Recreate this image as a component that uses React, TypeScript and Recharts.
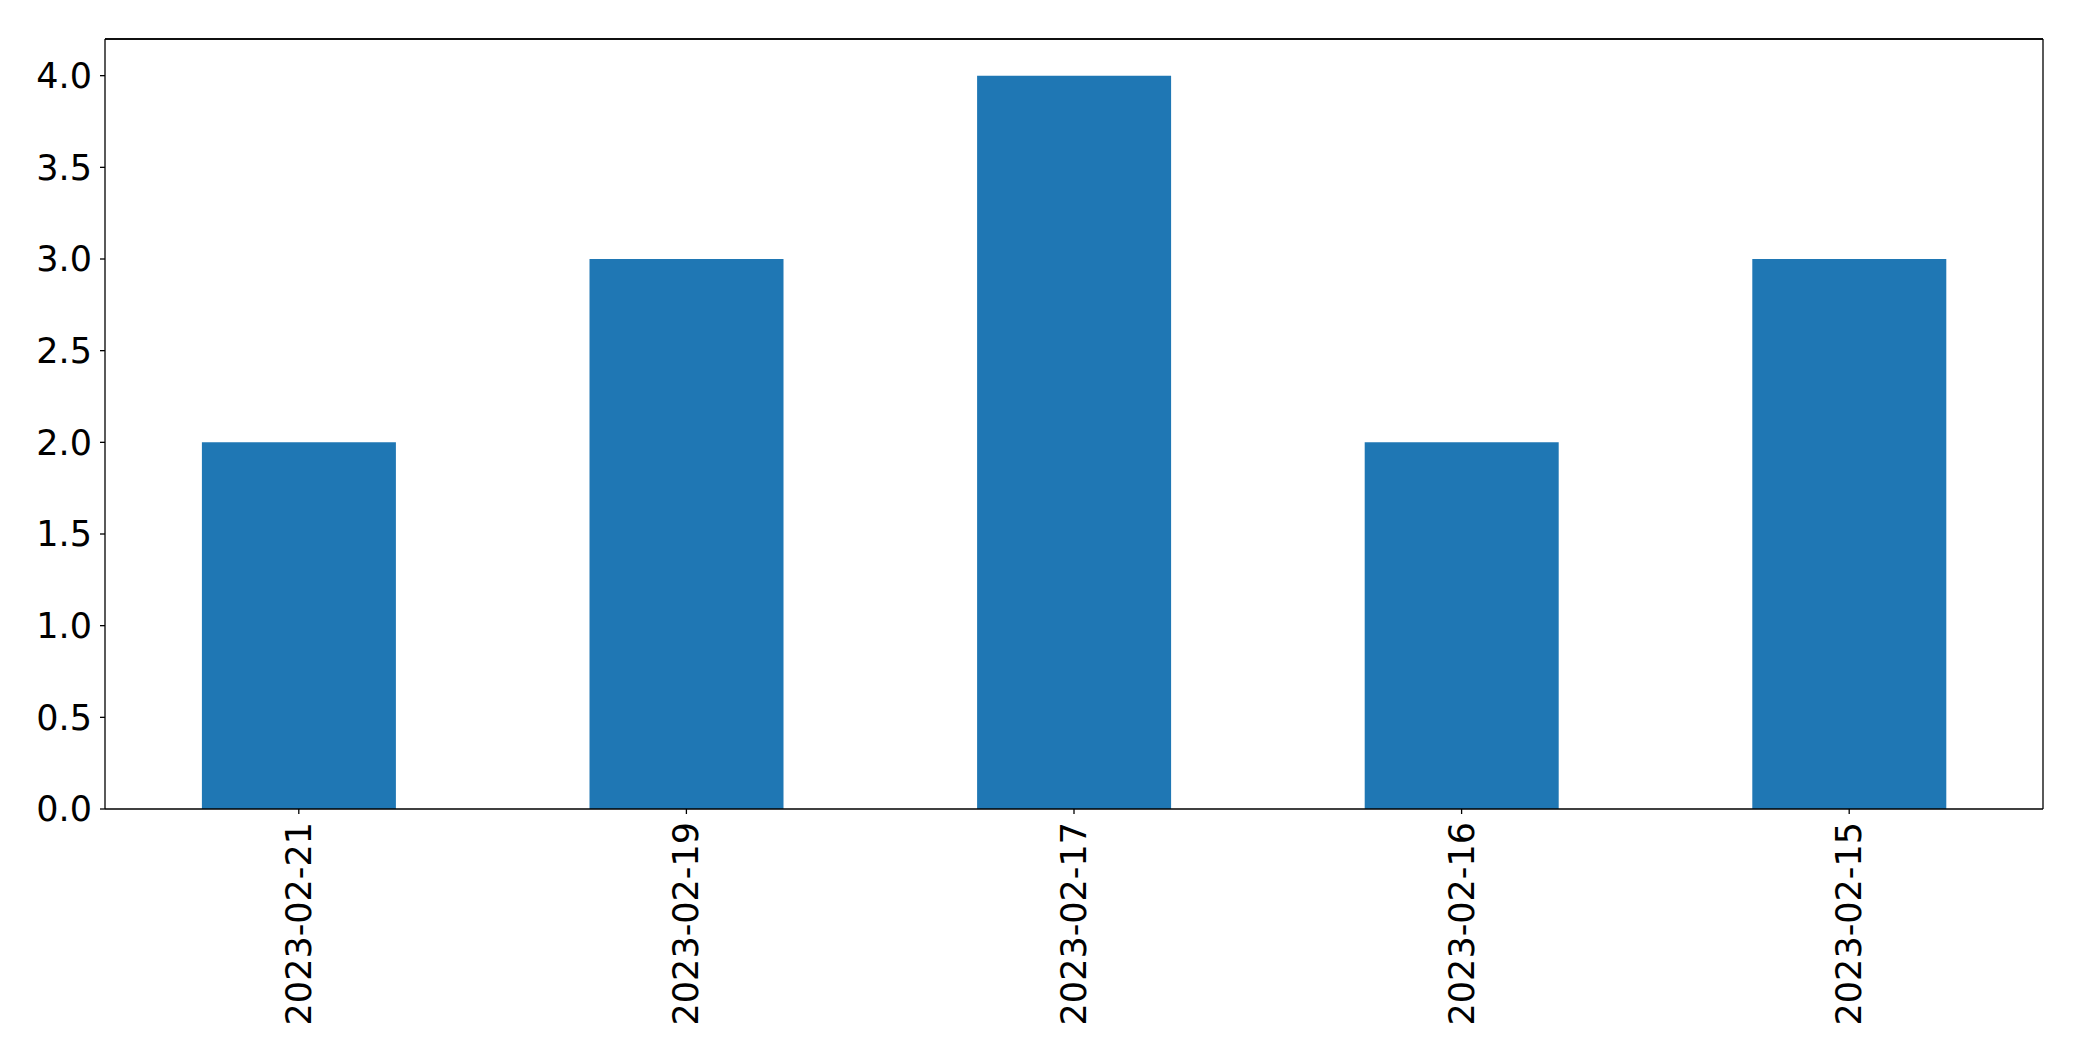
import React from "react";
import { BarChart, Bar, XAxis, YAxis, ReferenceLine } from "recharts";

const dates = ["2023-02-21", "2023-02-19", "2023-02-17", "2023-02-16", "2023-02-15"];
const counts = [2, 3, 4, 2, 3];
const yTicks = [0, 0.5, 1, 1.5, 2, 2.5, 3, 3.5, 4];

const data = dates.map((d, i) => ({ date: d, count: counts[i] }));

const font = "'DejaVu Sans', sans-serif";

function DateTick(props: any) {
  const { x, y, payload } = props;
  return (
    <text
      x={x}
      y={y}
      transform={`rotate(-90, ${x}, ${y})`}
      textAnchor="end"
      dominantBaseline="central"
      fontFamily={font}
      fontSize={35}
      fill="#000"
    >
      {payload.value}
    </text>
  );
}

export default function App() {
  return (
    <div style={{ position: "absolute", left: 0, top: 0, background: "#fff" }}>
      <BarChart
        width={2082}
        height={1061}
        data={data}
        margin={{ top: 38, right: 38, left: 5, bottom: 0 }}
        barCategoryGap="25%"
      >
        <XAxis
          dataKey="date"
          height={252}
          tickSize={5}
          tickMargin={8}
          tick={<DateTick />}
          axisLine={{ stroke: "#000", strokeWidth: 1.3 }}
          tickLine={{ stroke: "#000", strokeWidth: 1.3 }}
          interval={0}
        />
        <XAxis
          xAxisId="top"
          dataKey="date"
          orientation="top"
          height={1}
          tick={false}
          tickLine={false}
          axisLine={{ stroke: "#000", strokeWidth: 1.3 }}
        />
        <YAxis
          width={100}
          domain={[0, 4.2]}
          ticks={yTicks}
          allowDataOverflow
          tickFormatter={(v: number) => v.toFixed(1)}
          tickSize={5}
          tickMargin={8}
          tick={{ fontFamily: font, fontSize: 35, fill: "#000" }}
          axisLine={{ stroke: "#000", strokeWidth: 1.3 }}
          tickLine={{ stroke: "#000", strokeWidth: 1.3 }}
        />
        <YAxis
          yAxisId="right"
          orientation="right"
          width={1}
          domain={[0, 4.2]}
          tick={false}
          tickLine={false}
          axisLine={{ stroke: "#000", strokeWidth: 1.3 }}
        />
        <ReferenceLine y={4.2} stroke="#000" strokeWidth={1.3} ifOverflow="visible" />
        <Bar dataKey="count" fill="#1f77b4" isAnimationActive={false} />
      </BarChart>
    </div>
  );
}
